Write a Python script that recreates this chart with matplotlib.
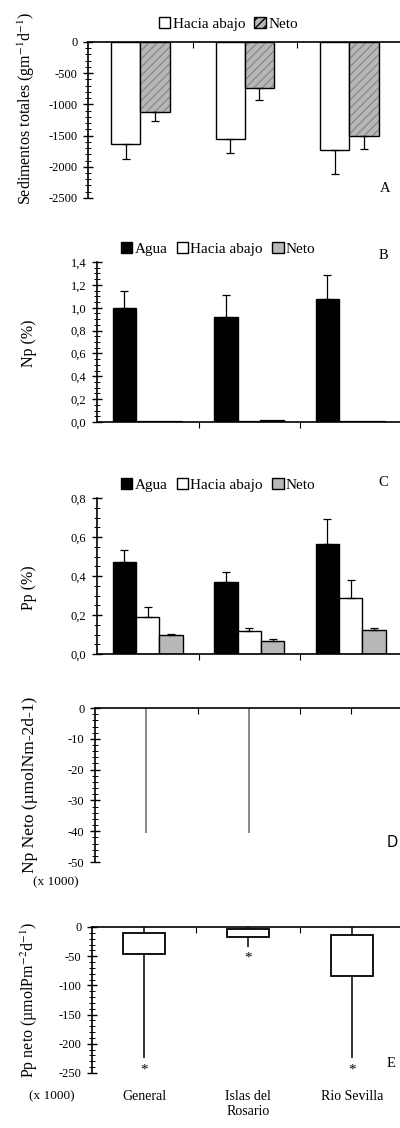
import numpy as np
import matplotlib
matplotlib.use("Agg")
import matplotlib.pyplot as plt
from matplotlib.ticker import MultipleLocator, FuncFormatter
from matplotlib.patches import Patch

plt.rcParams['font.family'] = ['Liberation Serif', 'DejaVu Serif']
plt.rcParams['mathtext.fontset'] = 'stix'

# Datos
sitios = ["General", "Islas del\nRosario", "Rio Sevilla"]

# A: sedimentos totales
sed_hacia = [-1640, -1550, -1730]
sed_hacia_err = [230, 230, 390]
sed_neto = [-1130, -740, -1510]
sed_neto_err = [130, 190, 210]

# B: Np (%)
np_agua = [1.00, 0.92, 1.08]
np_agua_err = [0.15, 0.19, 0.21]
np_hacia = [0.004, 0.002, 0.0]
np_neto = [0.004, 0.008, 0.0]

# C: Pp (%)
pp_agua = [0.47, 0.37, 0.565]
pp_agua_err = [0.065, 0.05, 0.125]
pp_hacia = [0.19, 0.12, 0.285]
pp_hacia_err = [0.05, 0.012, 0.095]
pp_neto = [0.095, 0.068, 0.125]
pp_neto_err = [0.008, 0.007, 0.01]

# D: Np neto (x 1000)
npn_neto = [-40.5, -40.5, 0.0]

# E: Pp neto (x 1000), cajas
pp_caja_sup = [-10, -3, -13]
pp_caja_inf = [-47, -18, -84]
pp_bigote_sup = [0, 0, 0]
pp_bigote_inf = [-224, -34, -224]
pp_atipico = [-245, -53, -245]

gris = '#b8b8b8'
x = np.arange(3) + 0.5
coma = FuncFormatter(lambda v, p: f"{v:.1f}".replace('.', ','))
entero = FuncFormatter(lambda v, p: "0" if abs(v) < 1e-9 else f"{v:.0f}")

fig = plt.figure(figsize=(4.0, 11.28), dpi=100)
H = 1128.0


def ytitulo(texto, xpx, ypx, tam=11.5):
    # etiqueta del eje y colocada en pixeles de la figura
    fig.text(xpx / 400.0, 1 - ypx / H, texto, rotation=90, ha='center', va='center',
             fontsize=tam)


def estilo(ax, arriba, mayor, menor, fmt, ymin, ymax, xmax=2.97):
    ax.set_xlim(0, xmax)
    ax.set_ylim(ymin, ymax)
    ax.spines['right'].set_visible(False)
    if arriba:
        ax.spines['bottom'].set_visible(False)
        ax.xaxis.set_ticks_position('top')
        ax.tick_params(axis='x', direction='in', length=4)
    else:
        ax.spines['top'].set_visible(False)
        ax.tick_params(axis='x', direction='out', length=4)
    ax.set_xticks([1, 2])
    ax.set_xticklabels([])
    ax.yaxis.set_major_locator(MultipleLocator(mayor))
    ax.yaxis.set_minor_locator(MultipleLocator(menor))
    ax.yaxis.set_major_formatter(fmt)
    ax.tick_params(axis='y', which='major', direction='inout', length=7, width=1.0,
                   labelsize=9, pad=4)
    ax.tick_params(axis='y', which='minor', direction='inout', length=4, width=0.7)
    for s in ax.spines.values():
        s.set_linewidth(1.2)


def err_abajo(ax, xs, ys, e):
    ax.errorbar(xs, ys, yerr=[e, np.zeros(len(e))], fmt='none', ecolor='k',
                elinewidth=0.9, capsize=3, capthick=0.9)


def err_arriba(ax, xs, ys, e):
    ax.errorbar(xs, ys, yerr=[np.zeros(len(e)), e], fmt='none', ecolor='k',
                elinewidth=0.9, capsize=3, capthick=0.9)


leg_kw = dict(frameon=False, fontsize=11, handlelength=0.75, handleheight=0.75,
              handletextpad=0.15, columnspacing=0.6, borderaxespad=0)

# ---- A ----
axA = fig.add_axes([0.22, 0.8245, 0.78, 0.1383])
w = 0.28
axA.bar(x - 0.14, sed_hacia, w, color='white', edgecolor='k', linewidth=1)
axA.bar(x + 0.14, sed_neto, w, color=gris, edgecolor='#8c8c8c', hatch='////', linewidth=0)
axA.bar(x + 0.14, sed_neto, w, fill=False, edgecolor='k', linewidth=1)
err_abajo(axA, x - 0.14, sed_hacia, sed_hacia_err)
err_abajo(axA, x + 0.14, sed_neto, sed_neto_err)
estilo(axA, True, 500, 100, entero, -2500, 0, 2.985)
ytitulo("Sedimentos totales (gm$^{-1}$d$^{-1}$)", 26, 108)
hA = [Patch(facecolor='white', edgecolor='k', label='Hacia abajo'),
      Patch(facecolor=gris, edgecolor='k', hatch='////', label='Neto')]
axA.legend(handles=hA, ncol=2, loc='lower center', bbox_to_anchor=(0.45, 1.03), **leg_kw)
axA.text(0.935, 0.04, "A", transform=axA.transAxes, fontsize=10.5)

# ---- B ----
axB = fig.add_axes([0.2425, 0.6259, 0.7575, 0.1418])
w = 0.23
axB.bar(x - 0.23, np_agua, w, color='black', edgecolor='k', linewidth=1)
axB.bar(x, np_hacia, w, color='white', edgecolor='k', linewidth=1.6)
axB.bar(x + 0.23, np_neto, w, color=gris, edgecolor='k', linewidth=1.6)
err_arriba(axB, x - 0.23, np_agua, np_agua_err)
estilo(axB, False, 0.2, 0.05, coma, 0, 1.4, 2.985)
ytitulo("Np (%)", 29, 343)
hB = [Patch(facecolor='black', edgecolor='k', label='Agua'),
      Patch(facecolor='white', edgecolor='k', label='Hacia abajo'),
      Patch(facecolor=gris, edgecolor='k', label='Neto')]
axB.legend(handles=hB, ncol=3, loc='lower center', bbox_to_anchor=(0.4, 1.0), **leg_kw)
axB.text(0.93, 1.02, "B", transform=axB.transAxes, fontsize=10.5)

# ---- C ----
axC = fig.add_axes([0.2425, 0.4202, 0.7575, 0.1383])
axC.bar(x - 0.23, pp_agua, w, color='black', edgecolor='k', linewidth=1)
axC.bar(x, pp_hacia, w, color='white', edgecolor='k', linewidth=1)
axC.bar(x + 0.23, pp_neto, w, color=gris, edgecolor='k', linewidth=1)
err_arriba(axC, x - 0.23, pp_agua, pp_agua_err)
err_arriba(axC, x, pp_hacia, pp_hacia_err)
err_arriba(axC, x + 0.23, pp_neto, pp_neto_err)
estilo(axC, False, 0.2, 0.05, coma, 0, 0.8, 2.985)
ytitulo("Pp (%)", 29, 588)
axC.legend(handles=hB, ncol=3, loc='lower center', bbox_to_anchor=(0.4, 1.0), **leg_kw)
axC.text(0.93, 1.08, "C", transform=axC.transAxes, fontsize=10.5)

# ---- D ----
axD = fig.add_axes([0.2375, 0.2358, 0.7625, 0.1365])
axD.bar(x, npn_neto, 0.02, color='#8c8c8c', linewidth=0)
estilo(axD, True, 10, 2, entero, -50, 0, 2.975)
axD.set_xticks([1, 2, 2.5])
ytitulo("Np Neto (µmolNm-2d-1)", 30, 785, 12.5)
axD.text(-0.13, -0.15, "(x 1000)", transform=axD.transAxes, fontsize=9.5, ha='center')
axD.text(0.955, 0.1, "D", transform=axD.transAxes, fontsize=10.5,
         family=['DejaVu Sans'])

# ---- E ----
axE = fig.add_axes([0.23, 0.0488, 0.77, 0.1294])
wc = 0.41
alto = np.array(pp_caja_sup) - np.array(pp_caja_inf)
axE.bar(x, alto, wc, bottom=pp_caja_inf, color='white', edgecolor='k', linewidth=1.3)
axE.vlines(x, pp_caja_sup, pp_bigote_sup, color='k', linewidth=1.1)
axE.vlines(x, pp_bigote_inf, pp_caja_inf, color='k', linewidth=1.1)
for xi, yi in zip(x, pp_atipico):
    axE.text(xi, yi, "*", ha='center', va='center', fontsize=11)
estilo(axE, True, 50, 10, entero, -250, 0, 2.96)
ytitulo("Pp neto (µmolPm$^{-2}$d$^{-1}$)", 29, 1000)
axE.text(-0.13, -0.12, "(x 1000)", transform=axE.transAxes, fontsize=9.5,
         ha='center', va='top')
for xi, nombre in zip(x, sitios):
    axE.text(xi, -0.12, nombre, transform=axE.get_xaxis_transform(), ha='center',
             va='top', fontsize=10, linespacing=1.2)
axE.text(0.955, 0.04, "E", transform=axE.transAxes, fontsize=10.5)

fig.savefig("out.png", dpi=100)
